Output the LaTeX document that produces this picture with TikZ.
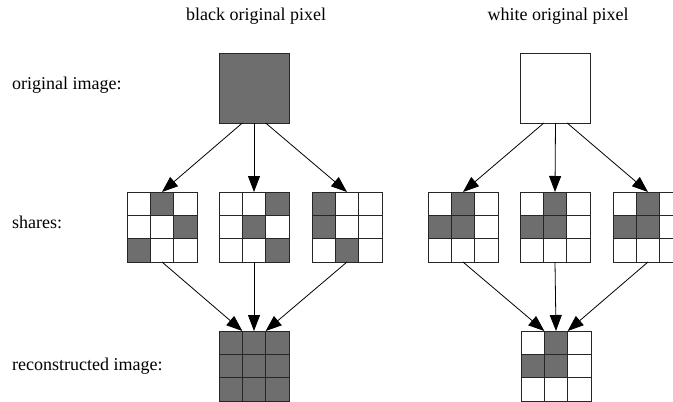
\documentclass[tikz,border=0pt]{standalone}
\usepackage{fontspec}
\setmainfont{Liberation Serif}
\usetikzlibrary{arrows.meta,calc}
\definecolor{pixgray}{RGB}{110,110,110}
\tikzset{
  lbl/.style={font=\fontsize{18}{20}\selectfont, inner sep=0pt},
  sq/.style={draw=black!85, line width=0.9pt, minimum size=70pt, inner sep=0pt, outer sep=0pt},
  cell/.style={draw=black!85, line width=0.9pt},
  arr/.style={-{Triangle[length=16pt,width=12pt]}, line width=0.8pt},
}
\newcommand{\sharegrid}[3]{%
  \node[sq] (#1) at #2 {};
  \foreach \r/\c in {#3} {\fill[pixgray] ($(#1.north west)+(\c*70/3,\r*70/3)$) rectangle +(70/3,70/3);}
  \foreach \i in {1,2} {%
    \draw[cell] ($(#1.north west)+(\i*70/3,0)$) -- +(0,70);
    \draw[cell] ($(#1.north west)+(0,\i*70/3)$) -- +(70,0);}
  \draw[cell] (#1.north west) rectangle (#1.south east);
}
\begin{document}
\begin{tikzpicture}[x=1pt,y=-1pt]
\useasboundingbox (0,0) rectangle (673,402);
\clip (0,0) rectangle (673,402);
% headers and row labels
\node[lbl, anchor=base] (hb) at (256,20) {black original pixel};
\node[lbl, anchor=base] (hw) at (558,20) {white original pixel};
\node[lbl, anchor=base west] (lo) at (12,89) {original image:};
\node[lbl, anchor=base west] (ls) at (12,228) {shares:};
\node[lbl, anchor=base west] (lr) at (12,370) {reconstructed image:};
% original pixels
\node[sq, fill=pixgray] (ob) at (254,88) {};
\node[sq, fill=white] (ow) at (555.5,88) {};
% shares
\sharegrid{s1}{(162,227)}{0/1,1/2,2/0}
\sharegrid{s2}{(254,227)}{0/2,1/1,2/2}
\sharegrid{s3}{(347,227)}{0/0,1/0,2/1}
\sharegrid{s4}{(463,227)}{0/1,1/0,1/1}
\sharegrid{s5}{(555,227)}{0/1,1/0,1/1}
\sharegrid{s6}{(648,227)}{0/1,1/0,1/1}
% reconstructed
\sharegrid{rb}{(254,366)}{0/0,0/1,0/2,1/0,1/1,1/2,2/0,2/1,2/2}
\sharegrid{rw}{(556,366)}{0/1,1/0,1/1}
% connectors, black
\draw[arr] ($(ob.south west)!1/3!(ob.south east)$) -- (s1.north);
\draw[arr] (ob.south) -- (s2.north);
\draw[arr] ($(ob.south west)!2/3!(ob.south east)$) -- (s3.north);
\draw[arr] (s1.south) -- ($(rb.north west)!1/3!(rb.north east)$);
\draw[arr] (s2.south) -- (rb.north);
\draw[arr] (s3.south) -- ($(rb.north west)!2/3!(rb.north east)$);
% connectors, white
\draw[arr] ($(ow.south west)!1/3!(ow.south east)$) -- (s4.north);
\draw[arr] (ow.south) -- (s5.north);
\draw[arr] ($(ow.south west)!2/3!(ow.south east)$) -- (s6.north);
\draw[arr] (s4.south) -- ($(rw.north west)!1/3!(rw.north east)$);
\draw[arr] (s5.south) -- (rw.north);
\draw[arr] (s6.south) -- ($(rw.north west)!2/3!(rw.north east)$);
\end{tikzpicture}
\end{document}
